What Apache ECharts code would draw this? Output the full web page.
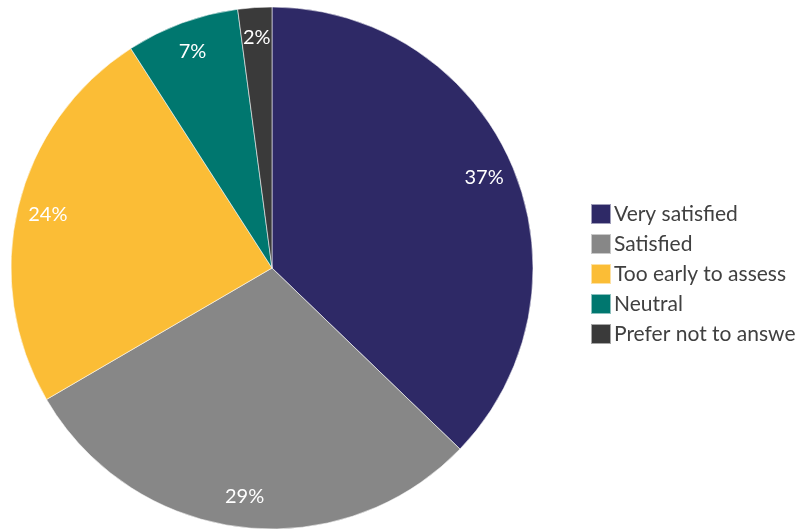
<!DOCTYPE html>
<html>
<head>
<meta charset="utf-8">
<script src="https://cdn.jsdelivr.net/npm/echarts@6/dist/echarts.min.js"></script>
<style>
  html, body { margin: 0; padding: 0; background: #fff; }
  #chart { width: 800px; height: 529px; }
</style>
</head>
<body>
<div id="chart"></div>
<script>
// answer categories and shares (percent)
var categories = ['Very satisfied', 'Satisfied', 'Too early to assess', 'Neutral', 'Prefer not to answe'];
var shares = [37.2, 29.4, 24.3, 7.0, 2.1];
var colors = ['#2E2966', '#878787', '#FBBD36', '#00776F', '#3A3A3A'];

var pieData = categories.map(function (name, i) {
  return { name: name, value: shares[i] };
});

var myChart = echarts.init(document.getElementById('chart'));

var option = {
  color: colors,
  animation: false,
  legend: {
    orient: 'vertical',
    left: 585,
    top: 198,
    itemWidth: 20,
    itemHeight: 20,
    itemGap: 8,
    icon: 'rect',
    data: categories,
    textStyle: { fontFamily: 'Lato', fontSize: 21, lineHeight: 20, color: '#404040', padding: [0, 0, 0, -2] }
  },
  series: [
    {
      name: 'slices',
      type: 'pie',
      center: [272, 268],
      radius: 261,
      startAngle: 90,
      clockwise: true,
      data: pieData,
      itemStyle: { borderColor: 'rgba(255,255,255,0.55)', borderWidth: 1 },
      label: { show: false },
      labelLine: { show: false },
      emphasis: { disabled: true }
    },
    {
      // label ring only, so the percentages sit near the rim
      name: 'labels',
      type: 'pie',
      center: [272, 268],
      radius: [194, 261],
      startAngle: 90,
      clockwise: true,
      silent: true,
      data: pieData,
      itemStyle: { color: 'rgba(0,0,0,0)' },
      label: {
        show: true,
        position: 'inside',
        formatter: function (p) { return Math.round(p.value) + '%'; },
        color: '#fff',
        fontFamily: 'Lato',
        fontSize: 20
      },
      labelLine: { show: false },
      emphasis: { disabled: true }
    }
  ]
};

myChart.setOption(option);
</script>
</body>
</html>
